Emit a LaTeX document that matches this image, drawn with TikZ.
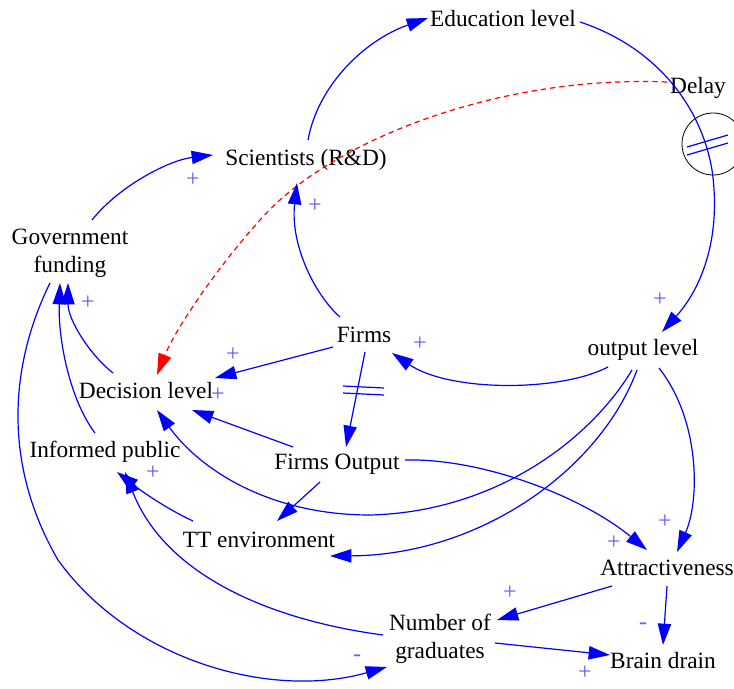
\documentclass[tikz,border=0pt]{standalone}
\usepackage{fontspec}
\setmainfont{Liberation Serif}
\usetikzlibrary{arrows.meta}
\definecolor{linkblue}{RGB}{0,0,255}
\definecolor{polblue}{RGB}{95,95,245}
\definecolor{delayred}{RGB}{255,0,0}
\begin{document}
\begin{tikzpicture}[x=0.75pt,y=-0.75pt,
  lbl/.style={font=\fontsize{17.5}{21}\selectfont, inner sep=0pt, align=center},
  lnk/.style={draw=linkblue, line width=0.9pt, -{Triangle[length=16pt,width=10pt]}},
  dly/.style={draw=delayred, line width=0.9pt, dash pattern=on 4pt off 3pt, -{Triangle[length=16pt,width=10pt]}},
  pol/.style={text=polblue, font=\fontsize{18}{18}\selectfont, inner sep=0pt},
  dmark/.style={draw=linkblue, line width=0.9pt}]
\useasboundingbox (0,0) rectangle (734,688);

% variables
\node[lbl] (edu) at (503,19) {Education level};
\node[lbl] (delay) at (698,88) {Delay};
\node[lbl] (sci) at (306,160) {Scientists (R\&D)};
\node[lbl] (gov) at (70,253) {Government\\funding};
\node[lbl] (firms) at (364,335) {Firms};
\node[lbl] (outl) at (643,350) {output level};
\node[lbl] (dec) at (146,391) {Decision level};
\node[lbl] (inf) at (105,452) {Informed public};
\node[lbl] (fout) at (337,464) {Firms Output};
\node[lbl] (tt) at (259,540) {TT environment};
\node[lbl] (attr) at (667,568) {Attractiveness};
\node[lbl] (grad) at (440,639) {Number of\\graduates};
\node[lbl] (brain) at (663,661) {Brain drain};

% delay circle
\draw[black, line width=0.6pt] (713,144) circle[radius=23.25pt];

% links
\draw[lnk] ([shift={(22,-33)}]gov.center) .. controls (120,185) and (170,160) .. ([shift={(-93,-5)}]sci.center);
\draw[lnk] ([shift={(2,-20)}]sci.center) .. controls (318,85) and (365,40) .. ([shift={(-75,-1)}]edu.center);
\draw[lnk] ([shift={(77,3)}]edu.center) .. controls (650,45) and (700,100) .. (712,170) .. controls (722,240) and (700,290) .. ([shift={(19,-18)}]outl.center);
\draw[dmark] (687,147) -- (728,135);
\draw[dmark] (687,155) -- (728,143);
\draw[dly] ([shift={(-31,-6)}]delay.center) .. controls (500,75) and (330,140) .. (260,220) .. controls (215,270) and (175,330) .. ([shift={(11,-16)}]dec.center);
\draw[lnk] ([shift={(-24,-18)}]firms.center) .. controls (315,295) and (290,245) .. ([shift={(-9,23)}]sci.center);
\draw[lnk] ([shift={(-31,12)}]firms.center) -- ([shift={(69,-13)}]dec.center);
\draw[lnk] ([shift={(-33,-18)}]dec.center) .. controls (90,355) and (68,320) .. ([shift={(-2,30)}]gov.center);
\draw[lnk] ([shift={(-10,-19)}]inf.center) .. controls (70,400) and (58,340) .. ([shift={(-10,30)}]gov.center);
\draw[lnk] ([shift={(-20,30)}]gov.center) .. controls (12,360) and (0,460) .. (58,560) .. controls (130,660) and (270,700) .. ([shift={(-53,28)}]grad.center);
\draw[lnk] ([shift={(1,17)}]firms.center) -- ([shift={(9,-17)}]fout.center);
\draw[dmark] (343,386) -- (384,388);
\draw[dmark] (343,393) -- (384,395);
\draw[lnk] ([shift={(-35,17)}]outl.center) .. controls (560,392) and (450,392) .. ([shift={(28,18)}]firms.center);
\draw[lnk] ([shift={(-44,-17)}]fout.center) -- ([shift={(46,19)}]dec.center);
\draw[lnk] ([shift={(-11,20)}]outl.center) .. controls (590,440) and (495,512) .. (370,515) .. controls (270,515) and (200,470) .. ([shift={(11,19)}]dec.center);
\draw[lnk] ([shift={(-6,20)}]outl.center) .. controls (600,470) and (480,555) .. ([shift={(71,16)}]tt.center);
\draw[lnk] ([shift={(16,18)}]outl.center) .. controls (700,420) and (700,500) .. ([shift={(10,-16)}]attr.center);
\draw[lnk] ([shift={(68,-4)}]fout.center) .. controls (480,458) and (580,495) .. ([shift={(-20,-18)}]attr.center);
\draw[lnk] ([shift={(-17,18)}]fout.center) -- ([shift={(18,-19)}]tt.center);
\draw[lnk] ([shift={(-66,-19)}]tt.center) .. controls (165,508) and (140,490) .. ([shift={(12,20)}]inf.center);
\draw[lnk] ([shift={(-57,-4)}]grad.center) .. controls (270,620) and (165,575) .. ([shift={(20,20)}]inf.center);
\draw[lnk] ([shift={(-55,18)}]attr.center) -- ([shift={(57,-19)}]grad.center);
\draw[lnk] ([shift={(0,18)}]attr.center) -- ([shift={(0,-16)}]brain.center);
\draw[lnk] ([shift={(55,4)}]grad.center) -- ([shift={(-53,-6)}]brain.center);

% polarities
\node[pol] (p1) at (193,180) {+};
\node[pol] (p2) at (315,206) {+};
\node[pol] (p3) at (660,300) {+};
\node[pol] (p4) at (233,355) {+};
\node[pol] (p5) at (218,395) {+};
\node[pol] (p6) at (88,303) {+};
\node[pol] (p7) at (420,344) {+};
\node[pol] (p8) at (153,473) {+};
\node[pol] (p9) at (665,522) {+};
\node[pol] (p10) at (614,543) {+};
\node[pol] (p11) at (510,593) {+};
\node[pol] (p12) at (585,673) {+};
\node[pol] (m1) at (643,626) {-};
\node[pol] (m2) at (357,658) {-};
\end{tikzpicture}
\end{document}
